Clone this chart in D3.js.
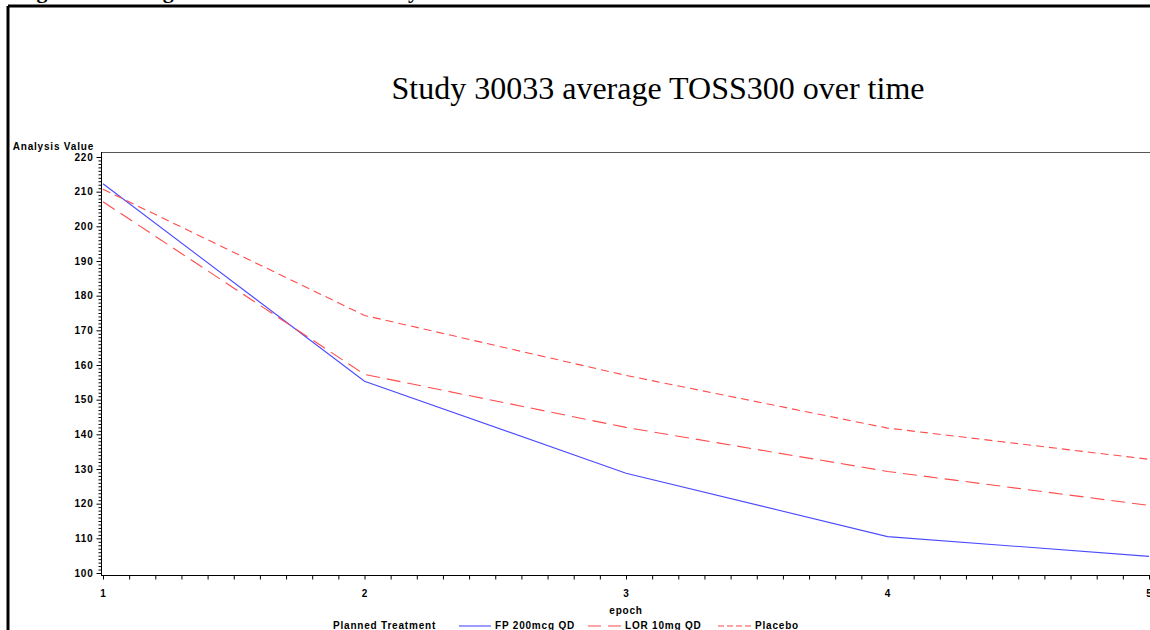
<!DOCTYPE html>
<html>
<head>
<meta charset="utf-8">
<script src="https://cdn.jsdelivr.net/npm/d3@7"></script>
<style>
  body { margin: 0; background: #fff; overflow: hidden; }
  svg { display: block; }
  .lbl { font-family: "Liberation Sans", Arial, sans-serif; font-weight: bold; font-size: 10px; letter-spacing: 0.8px; fill: #000; }
</style>
</head>
<body>
<svg id="chart"></svg>
<script>
const epochs = [1, 2, 3, 4, 5];
const fpValues = [212.3, 155.3, 128.8, 110.5, 104.8]; // FP 200mcg QD
const lorValues = [207.1, 157.3, 142.0, 129.3, 119.5]; // LOR 10mg QD
const placeboValues = [210.7, 174.3, 157.0, 141.8, 132.8]; // Placebo
const yTicks = [100, 110, 120, 130, 140, 150, 160, 170, 180, 190, 200, 210, 220];
const seriesNames = ['FP 200mcg QD', 'LOR 10mg QD', 'Placebo'];

const width = 1150;
const height = 630;
const plotLeft = 101;
const plotBottom = 575;
const plotTop = 152;

const svg = d3.select('#chart').attr('width', width).attr('height', height);

// outer page frame (thick, cut off on top/right)
svg.append('line').attr('x1', 8).attr('y1', 6).attr('x2', width).attr('y2', 6)
    .attr('stroke', '#000').attr('stroke-width', 3);
svg.append('line').attr('x1', 8).attr('y1', 6).attr('x2', 8).attr('y2', height)
    .attr('stroke', '#000').attr('stroke-width', 3);

// caption that sits above the frame, only its descenders show
svg.append('text')
    .attr('x', 17).attr('y', -2)
    .attr('font-family', '"Liberation Serif", "Times New Roman", serif')
    .attr('font-weight', 'bold')
    .attr('font-size', '22px')
    .text('Figure 4: Average TOSS over time in study 30033');

// title
svg.append('text')
    .attr('x', 658).attr('y', 99)
    .attr('text-anchor', 'middle')
    .attr('font-family', '"Liberation Serif", "Times New Roman", serif')
    .attr('font-size', '32px')
    .text('Study 30033 average TOSS300 over time');

const x = d3.scaleLinear().domain([1, 5]).range([103, 1149]);
const y = d3.scaleLinear().domain([100, 220]).range([573, 157]);

// plot frame
svg.append('line').attr('x1', plotLeft).attr('y1', plotTop + 0.5).attr('x2', width).attr('y2', plotTop + 0.5)
    .attr('stroke', '#555');
svg.append('line').attr('x1', plotLeft + 0.5).attr('y1', plotTop).attr('x2', plotLeft + 0.5).attr('y2', plotBottom)
    .attr('stroke', '#000');
svg.append('line').attr('x1', plotLeft).attr('y1', plotBottom + 0.5).attr('x2', width).attr('y2', plotBottom + 0.5)
    .attr('stroke', '#000');

// y axis: minor then major ticks
const yMinor = d3.range(100, 221, 1).filter(v => v % 10 != 0);
svg.append('g').attr('transform', `translate(${plotLeft + 0.5},0)`)
    .call(d3.axisLeft(y).tickValues(yMinor).tickSize(3).tickFormat(''))
    .call(g => g.select('.domain').remove());
const yAxis = svg.append('g').attr('transform', `translate(${plotLeft + 0.5},0)`)
    .call(d3.axisLeft(y).tickValues(yTicks).tickSize(5).tickPadding(3).tickFormat(d3.format('d')))
    .call(g => g.select('.domain').remove());
yAxis.selectAll('text').attr('class', 'lbl');
yAxis.attr('font-family', null).attr('font-size', null);

// x axis
const xMinor = d3.range(10, 51, 1).map(v => v / 10).filter(v => v % 1 != 0);
svg.append('g').attr('transform', `translate(0,${plotBottom + 0.5})`)
    .call(d3.axisBottom(x).tickValues(xMinor).tickSize(4).tickFormat(''))
    .call(g => g.select('.domain').remove());
const xAxis = svg.append('g').attr('transform', `translate(0,${plotBottom + 0.5})`)
    .call(d3.axisBottom(x).tickValues(epochs).tickSize(4).tickPadding(10).tickFormat(d3.format('d')))
    .call(g => g.select('.domain').remove());
xAxis.selectAll('text').attr('class', 'lbl');
xAxis.attr('font-family', null).attr('font-size', null);

svg.append('text').attr('class', 'lbl').attr('x', 94).attr('y', 150)
    .attr('text-anchor', 'end').text('Analysis Value');
svg.append('text').attr('class', 'lbl').attr('x', 626).attr('y', 614)
    .attr('text-anchor', 'middle').text('epoch');

// series
const series = [
    { name: seriesNames[0], values: fpValues, color: '#4b4bff', dash: null },
    { name: seriesNames[1], values: lorValues, color: '#ff4b4b', dash: '14,7' },
    { name: seriesNames[2], values: placeboValues, color: '#ff4b4b', dash: '8,5' },
];

const line = d3.line()
    .x((d, i) => x(epochs[i]))
    .y(d => y(d));

svg.append('g').selectAll('path').data(series).enter()
    .append('path')
    .attr('d', d => line(d.values))
    .attr('fill', 'none')
    .attr('stroke', d => d.color)
    .attr('stroke-width', 1.1)
    .attr('stroke-dasharray', d => d.dash);

// legend
const legendY = 626;
svg.append('text').attr('class', 'lbl').attr('x', 333).attr('y', legendY + 3).text('Planned Treatment');
const legendX = [459, 588, 718];
const legendDash = [null, '13,7', '6,3'];
const legendLen = [32, 33, 33];
series.forEach((s, i) => {
    svg.append('line')
        .attr('x1', legendX[i]).attr('x2', legendX[i] + legendLen[i])
        .attr('y1', legendY).attr('y2', legendY)
        .attr('stroke', s.color).attr('stroke-width', 1.1)
        .attr('stroke-dasharray', legendDash[i]);
    svg.append('text').attr('class', 'lbl')
        .attr('x', legendX[i] + legendLen[i] + 4).attr('y', legendY + 3)
        .text(s.name);
});
</script>
</body>
</html>
